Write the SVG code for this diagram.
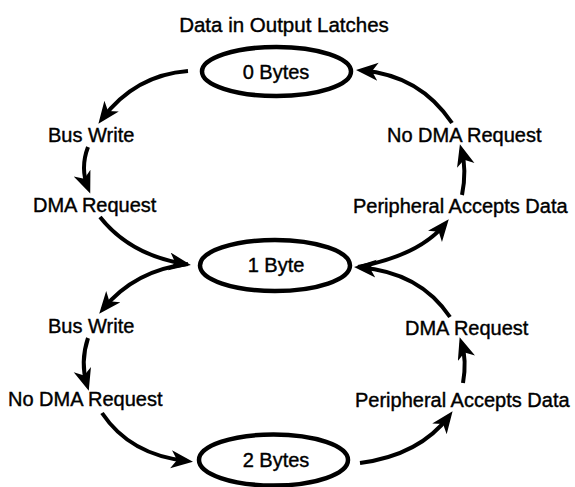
<svg xmlns="http://www.w3.org/2000/svg" width="575" height="487" viewBox="0 0 575 487">
<style>
  .bg { fill: #ffffff; }
  .node ellipse { fill: none; stroke: #000; stroke-width: 4.5; }
  text { font-family: "Liberation Sans", Arial, sans-serif; font-size: 20px; fill: #000; stroke: #000; stroke-width: 0.4px; }
  .mid { text-anchor: middle; }
  .conn path { fill: none; stroke: #000; stroke-width: 4; marker-end: url(#ah); }
</style>
<defs>
  <marker id="ah" markerUnits="userSpaceOnUse" markerWidth="24" markerHeight="20" refX="16" refY="9" orient="auto">
    <path d="M0,0 L22,9 L0,18 L6,9 Z" fill="#000"/>
  </marker>
</defs>
<rect class="bg" x="0" y="0" width="575" height="487"/>
<text x="284" y="32" class="mid" style="font-size:20.5px">Data in Output Latches</text>

<g id="node-0bytes" class="node">
  <ellipse cx="276.5" cy="71.5" rx="74.5" ry="24.5"/>
  <text x="276" y="79" class="mid">0 Bytes</text>
</g>
<g id="node-1byte" class="node">
  <ellipse cx="275" cy="265.5" rx="75" ry="25.5"/>
  <text x="276" y="272" class="mid">1 Byte</text>
</g>
<g id="node-2bytes" class="node">
  <ellipse cx="273.5" cy="460" rx="74.5" ry="25.5"/>
  <text x="276" y="467" class="mid">2 Bytes</text>
</g>

<g id="labels">
  <text x="48" y="142">Bus Write</text>
  <text x="33" y="212">DMA Request</text>
  <text x="387" y="142">No DMA Request</text>
  <text x="353" y="213">Peripheral Accepts Data</text>
  <text x="48" y="333">Bus Write</text>
  <text x="8" y="406">No DMA Request</text>
  <text x="405" y="335">DMA Request</text>
  <text x="355" y="407">Peripheral Accepts Data</text>
</g>

<g id="connectors" class="conn">
  <path d="M188,71 Q135,75 102,119"/>
  <path d="M88,147 Q80,168 88,188"/>
  <path d="M100,217 Q130,255 185,264"/>
  <path d="M188,264 Q135,270 103,309"/>
  <path d="M88,338 Q80,362 87,385"/>
  <path d="M102,413 Q130,455 187,461"/>
  <path d="M360,463 Q420,455 449,416"/>
  <path d="M463,383 Q467,360 461.5,343"/>
  <path d="M450,317 Q420,272 360,267.4"/>
  <path d="M358,267 Q420,255 445,224"/>
  <path d="M462,195 Q467,170 461.5,150"/>
  <path d="M452,123 Q420,75 362,70.4"/>
</g>
</svg>
